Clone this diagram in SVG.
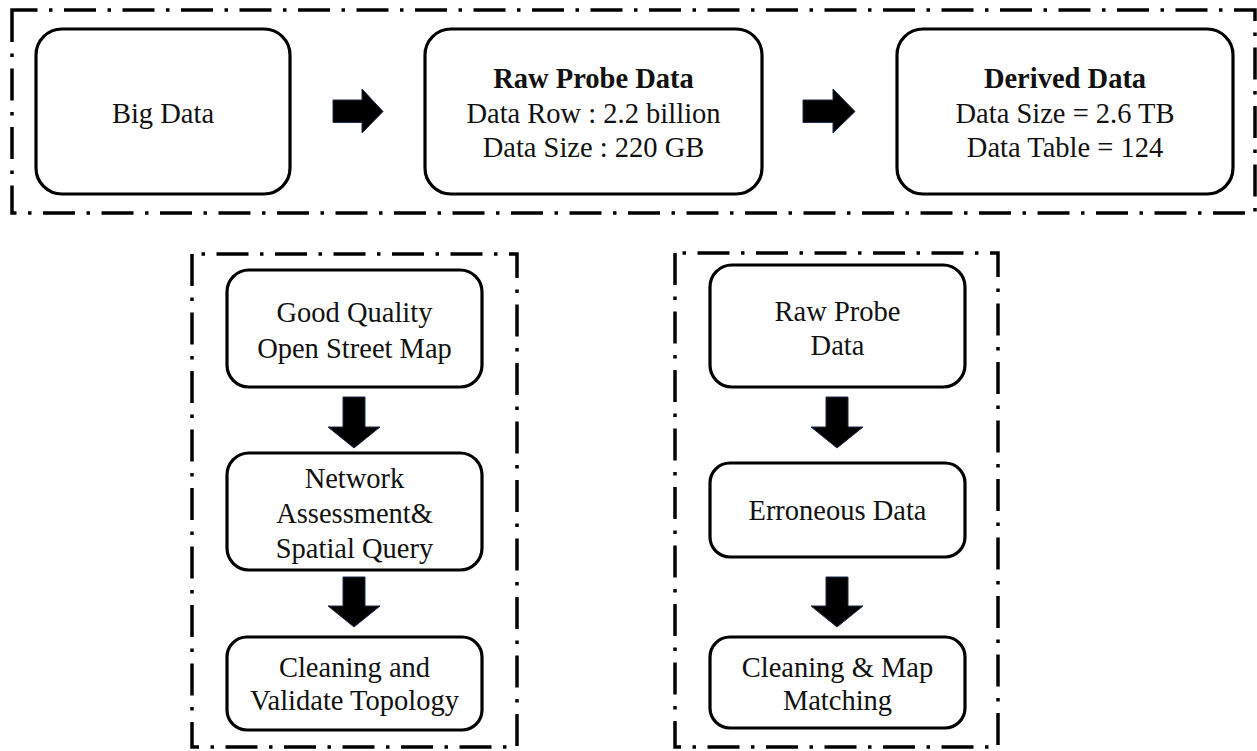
<svg xmlns="http://www.w3.org/2000/svg" width="1257" height="751" viewBox="0 0 1257 751">
  <style>
    .frame { fill: none; stroke: #000; stroke-width: 3.5; stroke-dasharray: 32 11.5 3.5 11.5; }
    .node { fill: #fff; stroke: #000; stroke-width: 3.2; }
    .label { font-family: "Liberation Serif", "Times New Roman", serif; font-size: 28.5px; fill: #111; text-anchor: middle; }
    .bold { font-weight: bold; }
    .arrow { fill: #000; stroke: #1c2a4a; stroke-width: 1; }
  </style>
  <rect width="1257" height="751" fill="#fff"/>

  <!-- dash-dot group frames -->
  <g id="frames">
    <path class="frame" d="M12,10 V213 H1255 V10 Z"/>
    <path class="frame" d="M192,254 V747 H517 V254 Z"/>
    <path class="frame" d="M675,253 V747 H998 V253 Z"/>
  </g>

  <!-- top row -->
  <g id="big-data">
    <rect class="node" x="36" y="29" width="254" height="165" rx="26"/>
    <text class="label" x="163" y="123">Big Data</text>
  </g>
  <g id="raw-probe-summary">
    <rect class="node" x="425" y="29" width="337" height="165" rx="26"/>
    <text class="label bold" x="593.5" y="88">Raw Probe Data</text>
    <text class="label" x="593.5" y="123">Data Row : 2.2 billion</text>
    <text class="label" x="593.5" y="157">Data Size : 220 GB</text>
  </g>
  <g id="derived-data">
    <rect class="node" x="897" y="29" width="336" height="165" rx="26"/>
    <text class="label bold" x="1065" y="88">Derived Data</text>
    <text class="label" x="1065" y="123">Data Size = 2.6 TB</text>
    <text class="label" x="1065" y="157">Data Table = 124</text>
  </g>

  <!-- left column: road network -->
  <g id="osm">
    <rect class="node" x="227" y="270" width="255" height="117" rx="22"/>
    <text class="label" x="354.5" y="322">Good Quality</text>
    <text class="label" x="354.5" y="358">Open Street Map</text>
  </g>
  <g id="network-assessment">
    <rect class="node" x="227" y="453" width="255" height="117" rx="22"/>
    <text class="label" x="354.5" y="488">Network</text>
    <text class="label" x="354.5" y="523">Assessment&amp;</text>
    <text class="label" x="354.5" y="558">Spatial Query</text>
  </g>
  <g id="validate-topology">
    <rect class="node" x="227" y="637" width="255" height="93" rx="20"/>
    <text class="label" x="354.5" y="677">Cleaning and</text>
    <text class="label" x="354.5" y="710">Validate Topology</text>
  </g>

  <!-- right column: probe data -->
  <g id="raw-probe">
    <rect class="node" x="710" y="265" width="255" height="122" rx="22"/>
    <text class="label" x="837.5" y="321">Raw Probe</text>
    <text class="label" x="837.5" y="355">Data</text>
  </g>
  <g id="erroneous-data">
    <rect class="node" x="710" y="463" width="255" height="94" rx="20"/>
    <text class="label" x="837.5" y="520">Erroneous Data</text>
  </g>
  <g id="map-matching">
    <rect class="node" x="710" y="637" width="255" height="91" rx="20"/>
    <text class="label" x="837.5" y="677">Cleaning &amp; Map</text>
    <text class="label" x="837.5" y="710">Matching</text>
  </g>

  <!-- block arrows -->
  <g id="connectors">
    <path class="arrow" d="M333,100 H362 V89 L383,111.5 L362,133 V122.5 H333 Z"/>
    <path class="arrow" d="M803,100 H833 V89 L855,111.5 L833,133 V122.5 H803 Z"/>
    <path class="arrow" d="M343,397 H365 V427 H380 L354,448 L328,427 H343 Z"/>
    <path class="arrow" d="M343,577 H365 V606 H380 L354,627 L328,606 H343 Z"/>
    <path class="arrow" d="M826,397 H848 V427 H863 L837,448 L811,427 H826 Z"/>
    <path class="arrow" d="M826,577 H848 V606 H863 L837,627 L811,606 H826 Z"/>
  </g>
</svg>
